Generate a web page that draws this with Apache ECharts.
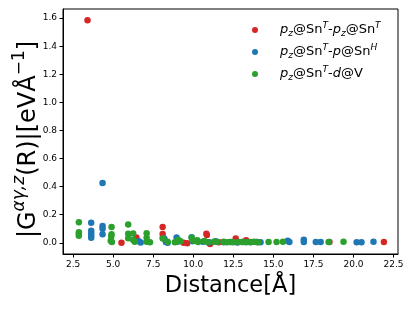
<!DOCTYPE html>
<html><head><meta charset="utf-8">
<script src="https://cdn.jsdelivr.net/npm/echarts@6/dist/echarts.min.js"></script>
<style>html,body{margin:0;padding:0;background:#fff}#c{width:415px;height:311px}</style>
</head><body><div id="c"></div>
<script>
const seriesNames = ['pz@SnT-pz@SnT', 'pz@SnT-p@SnH', 'pz@SnT-d@V'];
const xTicks = [2.5, 5.0, 7.5, 10.0, 12.5, 15.0, 17.5, 20.0, 22.5];
const yTicks = [0.0, 0.2, 0.4, 0.6, 0.8, 1.0, 1.2, 1.4, 1.6];
const redPoints = [[3.40,1.585],[5.52,0.0],[6.45,0.038],[8.09,0.112],[8.09,0.062],[8.1,0.035],[8.3,0.008],[9.4,0.0],[9.62,-0.004],[10.82,0.065],[10.85,0.055],[11.05,-0.008],[11.6,0.004],[12.65,0.031],[13.3,0.018],[14.0,0.006],[18.5,0.006],[21.9,0.006]];
const bluePoints = [[3.63,0.143],[3.63,0.085],[3.63,0.068],[3.63,0.05],[3.63,0.036],[4.34,0.425],[4.34,0.119],[4.34,0.1],[4.34,0.06],[6.6,0.01],[6.72,0.002],[8.2,0.028],[8.3,0.005],[8.4,0.0],[8.96,0.037],[9.0,0.008],[9.9,0.04],[9.95,0.01],[10.6,0.008],[11.0,0.003],[11.4,0.01],[11.9,0.004],[12.3,0.006],[12.75,0.002],[13.1,0.006],[13.55,0.004],[13.95,0.005],[14.2,0.003],[15.9,0.014],[16.0,0.005],[16.9,0.022],[16.9,0.006],[17.65,0.006],[17.95,0.006],[20.2,0.004],[20.5,0.003],[21.25,0.007]];
const greenPoints = [[2.86,0.146],[2.86,0.075],[2.86,0.063],[2.86,0.05],[4.9,0.112],[4.9,0.06],[4.88,0.045],[4.85,0.015],[4.92,0.005],[5.94,0.131],[5.94,0.065],[5.94,0.032],[6.25,0.066],[6.25,0.02],[6.35,0.008],[7.09,0.067],[7.09,0.035],[7.09,0.008],[7.3,0.003],[8.1,0.03],[8.4,0.007],[8.85,0.004],[9.07,0.02],[9.2,0.011],[9.9,0.036],[10.0,0.015],[10.25,0.018],[10.3,0.005],[10.7,0.012],[10.9,0.004],[11.3,0.008],[11.5,0.005],[11.9,0.007],[12.1,0.004],[12.35,0.006],[12.5,0.003],[12.85,0.005],[13.05,0.006],[13.3,0.004],[13.6,0.005],[13.8,0.007],[14.05,0.004],[14.7,0.005],[15.2,0.006],[15.6,0.008],[18.45,0.006],[19.38,0.008]];

const FF = 'DejaVu Sans';
const colors = ['#d62728', '#1f77b4', '#2ca02c'];
const legendLabels = {
  'pz@SnT-pz@SnT': '{i|p}{sub|z}{n|@Sn}{sup|T}{n|-}{i|p}{sub|z}{n|@Sn}{sup|T}',
  'pz@SnT-p@SnH': '{i|p}{sub|z}{n|@Sn}{sup|T}{n|-}{i|p}{n|@Sn}{sup|H}',
  'pz@SnT-d@V': '{i|p}{sub|z}{n|@Sn}{sup|T}{n|-}{i|d}{n|@V}'
};
const chart = echarts.init(document.getElementById('c'), null, {renderer: 'canvas'});
const axisLine = {show: true, onZero: false, lineStyle: {color: '#000', width: 1}};
chart.setOption({
  animation: false,
  textStyle: {fontFamily: FF},
  grid: {left: 63, right: 17, top: 9, bottom: 57, show: true, borderColor: '#000', borderWidth: 1,
    containLabel: false, outerBoundsMode: 'none'},
  xAxis: {
    type: 'value', min: 1.87, max: 22.78,
    axisLine: axisLine, splitLine: {show: false},
    axisLabel: {customValues: xTicks, fontSize: 9, color: '#000', fontFamily: FF, margin: 6,
      formatter: v => v.toFixed(1)},
    axisTick: {show: true, customValues: xTicks, length: 3.5, lineStyle: {color: '#000'}},
    name: 'Distance[Å]', nameLocation: 'middle', nameGap: 21,
    nameTextStyle: {fontSize: 22.5, color: '#000', fontFamily: FF, verticalAlign: 'top'}
  },
  yAxis: {
    type: 'value', min: -0.08, max: 1.665,
    axisLine: axisLine, splitLine: {show: false},
    axisLabel: {customValues: yTicks, fontSize: 9, color: '#000', fontFamily: FF, margin: 6,
      formatter: v => v.toFixed(1)},
    axisTick: {show: true, customValues: yTicks, length: 3.5, lineStyle: {color: '#000'}},
    name: '{n||G}{sup|αγ,z}{n|(R)|[eVÅ}{sup2|−1}{n|]}', nameLocation: 'middle', nameGap: 22, nameRotate: 90,
    nameMoveOverlap: false,
    nameTextStyle: {color: '#000', fontFamily: FF, padding: [0, 16, 0, 0],
      rich: {
        n: {fontSize: 24, fontFamily: FF, color: '#000', lineHeight: 30, verticalAlign: 'bottom'},
        sup: {fontSize: 17, fontFamily: FF, fontStyle: 'italic', color: '#000', lineHeight: 17, verticalAlign: 'top'},
        sup2: {fontSize: 17, fontFamily: FF, color: '#000', lineHeight: 17, verticalAlign: 'top'}
      }}
  },
  legend: {
    orient: 'vertical', left: 247, top: 16.5, itemWidth: 40, itemHeight: 6, itemGap: 5,
    icon: 'circle', data: seriesNames,
    formatter: name => legendLabels[name],
    textStyle: {color: '#000', fontFamily: FF, fontSize: 13,
      rich: {
        n: {fontSize: 13, fontFamily: FF, color: '#000', lineHeight: 17, verticalAlign: 'middle'},
        i: {fontSize: 13, fontFamily: FF, fontStyle: 'italic', color: '#000', lineHeight: 17, verticalAlign: 'middle'},
        sup: {fontSize: 9, fontFamily: FF, fontStyle: 'italic', color: '#000', lineHeight: 9, verticalAlign: 'top'},
        sub: {fontSize: 9, fontFamily: FF, fontStyle: 'italic', color: '#000', lineHeight: 9, verticalAlign: 'bottom'}
      }}
  },
  series: [
    {name: seriesNames[0], type: 'scatter', data: redPoints, symbolSize: 6.5, itemStyle: {color: colors[0], opacity: 1}},
    {name: seriesNames[1], type: 'scatter', data: bluePoints, symbolSize: 6.5, itemStyle: {color: colors[1], opacity: 1}},
    {name: seriesNames[2], type: 'scatter', data: greenPoints, symbolSize: 6.5, itemStyle: {color: colors[2], opacity: 1}}
  ]
});
</script></body></html>
